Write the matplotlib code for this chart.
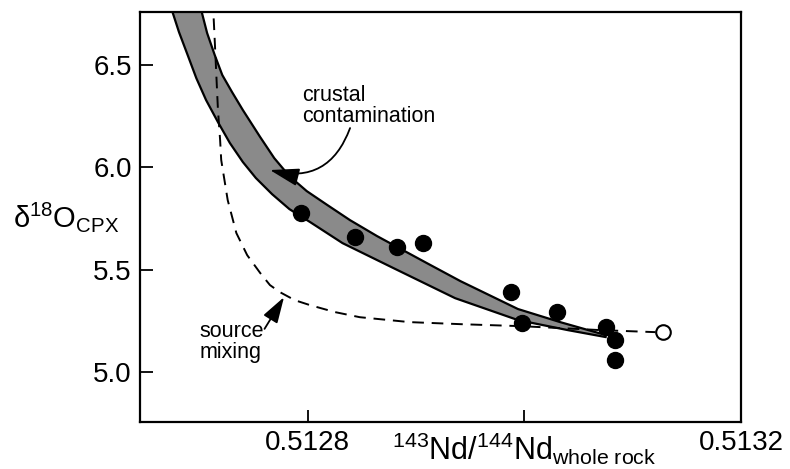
import matplotlib
matplotlib.use("Agg")
import matplotlib.pyplot as plt
from matplotlib.patches import FancyArrowPatch

plt.rcParams["font.family"] = ["Liberation Sans", "DejaVu Sans"]
plt.rcParams["mathtext.fontset"] = "custom"
plt.rcParams["mathtext.rm"] = "Liberation Sans"
plt.rcParams["mathtext.it"] = "Liberation Sans:italic"

# measured samples (filled circles)
nd_samples = [0.512794, 0.512844, 0.512882, 0.512906, 0.512988,
              0.512998, 0.513030, 0.513075, 0.513084, 0.513084]
d18o_samples = [5.776, 5.658, 5.610, 5.629, 5.390,
                5.238, 5.292, 5.219, 5.155, 5.058]

# mantle end member (open circle)
nd_mantle = [0.513128]
d18o_mantle = [5.194]

# crustal contamination band: upper and lower edges
band_upper_x = [0.512698, 0.512702, 0.512707, 0.512714, 0.512721, 0.512730, 0.512740,
                0.512756, 0.512769, 0.512783, 0.512799, 0.512818, 0.512839, 0.512864,
                0.512910, 0.512941, 0.512994, 0.513033, 0.513075]
band_upper_y = [6.841, 6.758, 6.655, 6.548, 6.450, 6.367, 6.279,
                6.147, 6.044, 5.956, 5.883, 5.815, 5.741, 5.663,
                5.531, 5.443, 5.307, 5.243, 5.180]
band_lower_x = [0.512671, 0.512675, 0.512681, 0.512689, 0.512697, 0.512706, 0.512717,
                0.512728, 0.512740, 0.512752, 0.512767, 0.512783, 0.512802, 0.512832,
                0.512879, 0.512936, 0.512994, 0.513040, 0.513075]
band_lower_y = [6.841, 6.758, 6.660, 6.548, 6.435, 6.328, 6.220,
                6.118, 6.025, 5.947, 5.868, 5.795, 5.732, 5.629,
                5.507, 5.360, 5.253, 5.204, 5.170]

# source mixing curve (dashed)
mix_x = [0.512712, 0.512714, 0.512717, 0.512719, 0.512720, 0.512726, 0.512734,
         0.512744, 0.512756, 0.512765, 0.512774, 0.512788, 0.512802, 0.512825,
         0.512848, 0.512894, 0.512941, 0.512998, 0.513070, 0.513121]
mix_y = [6.841, 6.621, 6.279, 6.132, 6.035, 5.839, 5.678,
         5.570, 5.483, 5.424, 5.390, 5.350, 5.326, 5.292,
         5.267, 5.243, 5.233, 5.223, 5.204, 5.194]

xticks = [0.5128, 0.5130, 0.5132]
xtick_labels = ["0.5128", "", "0.5132"]
yticks = [5.0, 5.5, 6.0, 6.5]

fig = plt.figure(figsize=(7.9, 4.69), dpi=100)
ax = fig.add_axes([0.1772, 0.1002, 0.7608, 0.8742])

# band polygon
poly_x = band_upper_x + band_lower_x[::-1]
poly_y = band_upper_y + band_lower_y[::-1]
ax.fill(poly_x, poly_y, facecolor="#8a8a8a", edgecolor="none", zorder=1)
ax.plot(band_upper_x, band_upper_y, color="black", lw=1.6, zorder=2)
ax.plot(band_lower_x, band_lower_y, color="black", lw=1.6, zorder=2)

ax.plot(mix_x, mix_y, color="black", lw=1.4, ls=(0, (6, 4)), zorder=2)

ax.plot(nd_samples, d18o_samples, "o", color="black", ms=11.5, zorder=3)
ax.plot(nd_mantle, d18o_mantle, "o", mfc="white", mec="black", mew=1.5,
        ms=10.5, zorder=3)

# annotations
ax.text(0.512795, 6.40, "crustal\ncontamination", fontsize=15.5,
        ha="left", va="top", linespacing=1.0)
arr1 = FancyArrowPatch((0.512839, 6.191), (0.512765, 5.986),
                       connectionstyle="arc3,rad=-0.45",
                       arrowstyle="-|>,head_length=1.8,head_width=0.55",
                       mutation_scale=10, shrinkA=0, shrinkB=0,
                       color="black", lw=1.3, zorder=4)
ax.add_patch(arr1)

ax.text(0.512700, 5.250, "source\nmixing", fontsize=15.5,
        ha="left", va="top", linespacing=1.0)
arr2 = FancyArrowPatch((0.512760, 5.210), (0.512778, 5.365),
                       arrowstyle="-|>,head_length=1.6,head_width=0.5",
                       mutation_scale=10, shrinkA=0, shrinkB=0,
                       color="black", lw=1.3, zorder=4)
ax.add_patch(arr2)

ax.set_xlim(0.512645, 0.5132)
ax.set_ylim(4.755, 6.758)

ax.set_xticks(xticks)
ax.set_xticklabels(xtick_labels)
ax.set_yticks(yticks)
ax.set_yticklabels([f"{v:.1f}" for v in yticks])
ax.tick_params(direction="in", length=9, width=1.3, labelsize=20, pad=6)

for sp in ax.spines.values():
    sp.set_linewidth(1.6)

ax.set_xlabel(r"$^{143}$Nd/$^{144}$Nd$_{\mathrm{whole\ rock}}$", fontsize=22)
ax.xaxis.set_label_coords(0.639, -0.02)
ax.set_ylabel(r"δ$^{18}$O$_{\mathrm{CPX}}$", fontsize=21, rotation=0,
              ha="center", va="center")
ax.yaxis.set_label_coords(-0.123, 0.50)

fig.savefig("out.png", dpi=100)
